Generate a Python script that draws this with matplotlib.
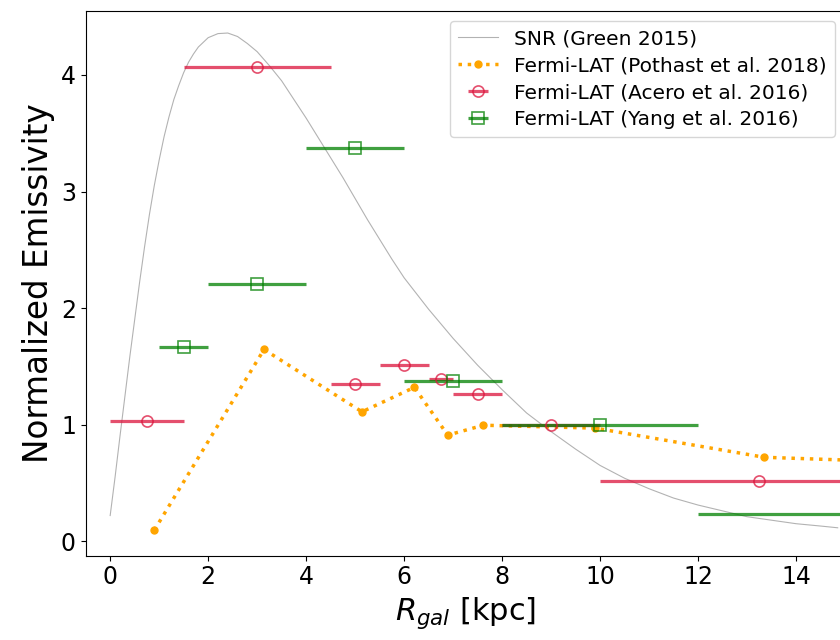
import numpy as np
import matplotlib
matplotlib.use("Agg")
import matplotlib.pyplot as plt

# SNR radial distribution (Green 2015)
snr_r = [0.0, 0.1, 0.2, 0.3, 0.4, 0.5, 0.6, 0.7, 0.8, 0.9, 1.0, 1.1, 1.2,
         1.3, 1.4, 1.5, 1.6, 1.7, 1.8, 2.0, 2.2, 2.4, 2.6, 2.8, 3.0, 3.25,
         3.5, 3.75, 4.0, 4.25, 4.5, 4.75, 5.0, 5.25, 5.5, 5.75, 6.0, 6.5,
         7.0, 7.5, 8.0, 8.5, 9.0, 9.5, 10.0, 10.5, 11.0, 11.5, 12.0, 12.5,
         13.0, 13.5, 14.0, 14.5, 14.85]
snr_val = [0.22, 0.55, 0.90, 1.24, 1.58, 1.90, 2.22, 2.52, 2.80, 3.05, 3.27,
           3.47, 3.64, 3.79, 3.91, 4.02, 4.11, 4.18, 4.24, 4.32, 4.355, 4.36,
           4.33, 4.27, 4.20, 4.08, 3.95, 3.79, 3.63, 3.46, 3.29, 3.12, 2.94,
           2.76, 2.59, 2.42, 2.26, 1.99, 1.74, 1.51, 1.30, 1.10, 0.94, 0.79,
           0.65, 0.54, 0.45, 0.37, 0.31, 0.26, 0.21, 0.18, 0.15, 0.13, 0.115]

# Fermi-LAT (Pothast et al. 2018)
pot_r = [0.9, 3.14, 5.14, 6.21, 6.89, 7.62, 9.9, 13.35, 17.5]
pot_val = [0.094, 1.645, 1.11, 1.32, 0.91, 0.995, 0.97, 0.72, 0.66]

# Fermi-LAT (Acero et al. 2016)
ace_r = [0.75, 3.0, 5.0, 6.0, 6.75, 7.5, 9.0, 13.25]
ace_rerr = [0.75, 1.5, 0.5, 0.5, 0.25, 0.5, 1.0, 3.25]
ace_val = [1.03, 4.07, 1.345, 1.51, 1.395, 1.26, 1.0, 0.515]

# Fermi-LAT (Yang et al. 2016)
yan_r = [1.5, 3.0, 5.0, 7.0, 10.0, 16.0]
yan_rerr = [0.5, 1.0, 1.0, 1.0, 2.0, 4.0]
yan_val = [1.665, 2.21, 3.37, 1.375, 1.0, 0.23]

fig = plt.figure(figsize=(8.4, 6.4), dpi=100)
ax = fig.add_axes([0.102, 0.132, 0.904, 0.851])

ax.plot(snr_r, snr_val, color="gray", lw=0.8, alpha=0.6, label="SNR (Green 2015)")
ax.plot(pot_r, pot_val, ls=":", marker="o", ms=5, lw=2.5, color="orange",
        label="Fermi-LAT (Pothast et al. 2018)")
ax.errorbar(ace_r, ace_val, xerr=ace_rerr, fmt="o", ms=8, mfc="none",
            mec="crimson", mew=1.2, ecolor="crimson", elinewidth=2.3, alpha=0.75,
            color="crimson", label="Fermi-LAT (Acero et al. 2016)")
ax.errorbar(yan_r, yan_val, xerr=yan_rerr, fmt="s", ms=8, mfc="none",
            mec="green", mew=1.2, ecolor="green", elinewidth=2.3, alpha=0.75,
            color="green", label="Fermi-LAT (Yang et al. 2016)")

ax.set_xlim(-0.5, 15.0)
ax.set_ylim(-0.123, 4.55)
ax.set_xticks([0, 2, 4, 6, 8, 10, 12, 14])
ax.set_yticks([0, 1, 2, 3, 4])
ax.tick_params(labelsize=17)
ax.set_xlabel("$R_{gal}$ [kpc]", fontsize=22)
ax.set_ylabel("Normalized Emissivity", fontsize=23.5)
ax.legend(loc="upper right", fontsize=14.5, labelspacing=0.4)

fig.savefig("out.png", dpi=100)
